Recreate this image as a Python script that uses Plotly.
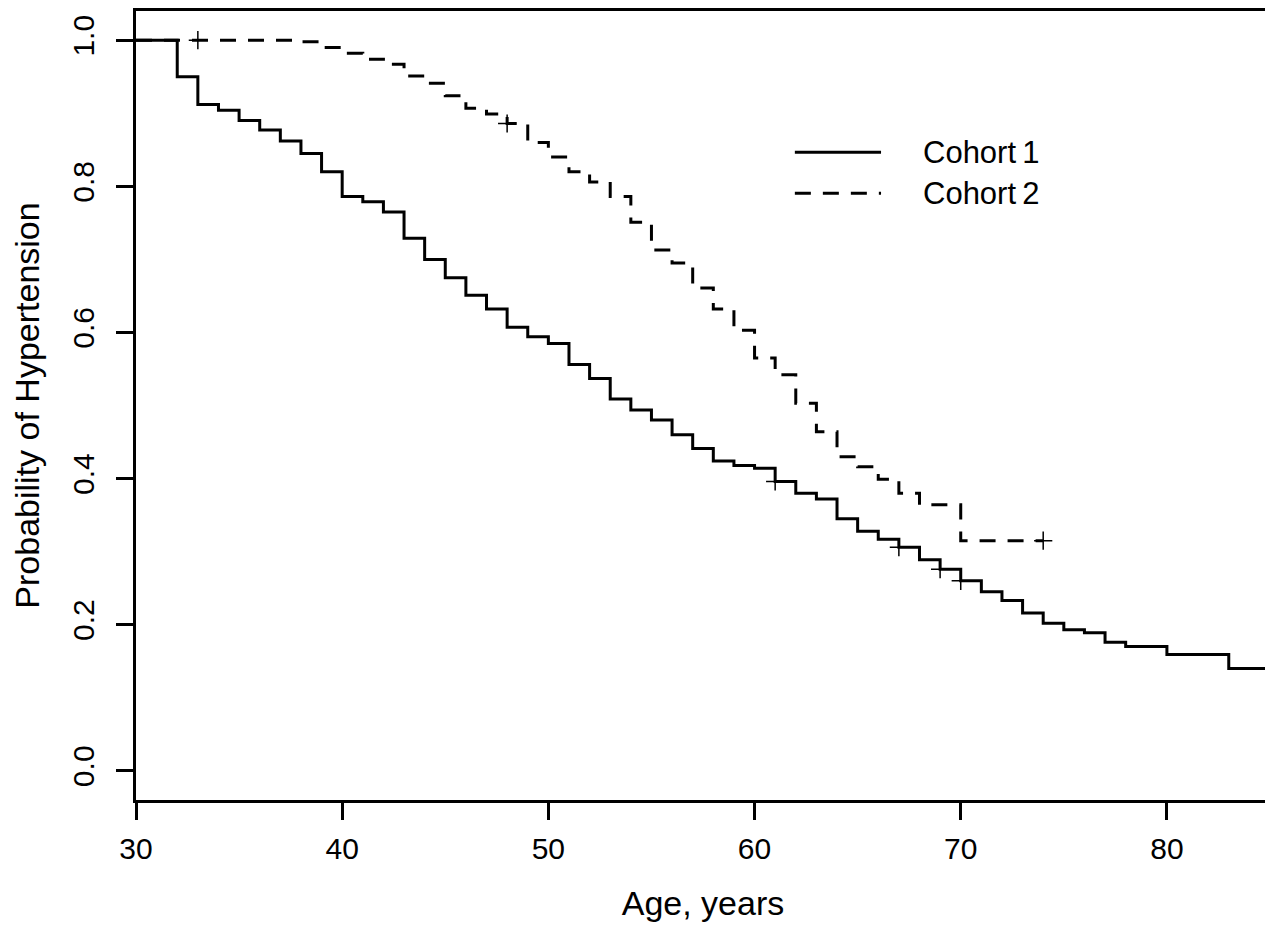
import plotly.graph_objects as go

# Kaplan-Meier style step curves
age_c1 = [30, 32, 33, 34, 35, 36, 37, 38, 39, 40, 41, 42, 43, 44, 45, 46, 47, 48, 49,
          50, 51, 52, 53, 54, 55, 56, 57, 58, 59, 60, 61, 62, 63, 64, 65, 66, 67, 68,
          69, 70, 71, 72, 73, 74, 75, 76, 77, 78, 80, 83, 85]
surv_c1 = [1.0, 0.950, 0.912, 0.904, 0.890, 0.877, 0.862, 0.845, 0.820, 0.786, 0.779,
           0.765, 0.729, 0.700, 0.675, 0.651, 0.632, 0.607, 0.594, 0.585, 0.556, 0.537,
           0.509, 0.494, 0.480, 0.460, 0.441, 0.424, 0.418, 0.414, 0.396, 0.380, 0.372,
           0.345, 0.328, 0.317, 0.306, 0.289, 0.276, 0.260, 0.245, 0.233, 0.216, 0.202,
           0.193, 0.189, 0.176, 0.170, 0.159, 0.140, 0.140]

age_c2 = [30, 38, 39, 40, 41, 42, 43, 44, 45, 46, 47, 48, 49, 50, 51, 52, 53, 54, 55,
          56, 57, 58, 59, 60, 61, 62, 63, 64, 65, 66, 67, 68, 70, 74]
surv_c2 = [1.0, 0.998, 0.990, 0.982, 0.974, 0.967, 0.951, 0.941, 0.924, 0.907, 0.899,
           0.886, 0.860, 0.840, 0.820, 0.806, 0.786, 0.751, 0.713, 0.695, 0.661, 0.632,
           0.603, 0.565, 0.542, 0.503, 0.464, 0.430, 0.416, 0.399, 0.380, 0.364, 0.315,
           0.315]

# censored observations (+)
cens_age_c1 = [61, 67, 69, 70]
cens_surv_c1 = [0.396, 0.306, 0.276, 0.260]
cens_age_c2 = [33, 48, 74]
cens_surv_c2 = [1.0, 0.886, 0.315]

x_ticks = [30, 40, 50, 60, 70, 80]
y_ticks = [0.0, 0.2, 0.4, 0.6, 0.8, 1.0]
y_ticklabels = ["0.0", "0.2", "0.4", "0.6", "0.8", "1.0"]
legend_labels = ["Cohort\u20091", "Cohort\u20092"]

FONT = "Liberation Sans, Arial, Helvetica, sans-serif"

fig = go.Figure()
fig.add_trace(go.Scatter(x=age_c1, y=surv_c1, mode="lines", line_shape="hv",
                         line=dict(color="black", width=3), name=legend_labels[0]))
fig.add_trace(go.Scatter(x=age_c2, y=surv_c2, mode="lines", line_shape="hv",
                         line=dict(color="black", width=3, dash="16px,12px"),
                         name=legend_labels[1]))
fig.add_trace(go.Scatter(x=cens_age_c1 + cens_age_c2, y=cens_surv_c1 + cens_surv_c2,
                         mode="markers",
                         marker=dict(symbol="cross-thin", size=13, color="black",
                                     line=dict(color="black", width=1.5))))

# hand-drawn legend, like R's legend() without a box
fig.add_shape(type="line", xref="paper", yref="paper", x0=0.581, x1=0.657, y0=0.821, y1=0.821,
              line=dict(color="black", width=3))
fig.add_shape(type="line", xref="paper", yref="paper", x0=0.581, x1=0.657, y0=0.769, y1=0.769,
              line=dict(color="black", width=3, dash="16px,12px"))
for lab, yy in zip(legend_labels, [0.821, 0.769]):
    fig.add_annotation(xref="paper", yref="paper", x=0.692, y=yy, text=lab,
                       showarrow=False, xanchor="left", yanchor="middle",
                       font=dict(size=31, color="black", family=FONT))

# page body has an 8px margin, so the figure is trimmed by that much
fig.update_layout(
    width=1265, height=917,
    margin=dict(l=128, r=0, t=3, b=125),
    paper_bgcolor="white", plot_bgcolor="white",
    showlegend=False,
    font=dict(family=FONT, size=28, color="black"),
)
fig.update_xaxes(range=[30, 85], tickvals=x_ticks, ticks="outside", ticklen=17,
                 tickwidth=2.5, tickcolor="black", showline=True, linecolor="black",
                 linewidth=2.5, mirror=True, showgrid=False, zeroline=False,
                 tickfont=dict(size=30), ticklabelstandoff=3,
                 title=dict(text="Age, years", standoff=28))
fig.update_yaxes(range=[-0.04, 1.04], tickvals=y_ticks, ticktext=y_ticklabels,
                 tickangle=-90, ticks="outside", ticklen=17, tickwidth=2.5,
                 tickcolor="black", showline=True, linecolor="black", linewidth=2.5,
                 mirror=True, showgrid=False, zeroline=False,
                 tickfont=dict(size=30), ticklabelstandoff=10,
                 title=dict(text="Probability of Hypertension", standoff=22))

fig.write_html("out.html")
